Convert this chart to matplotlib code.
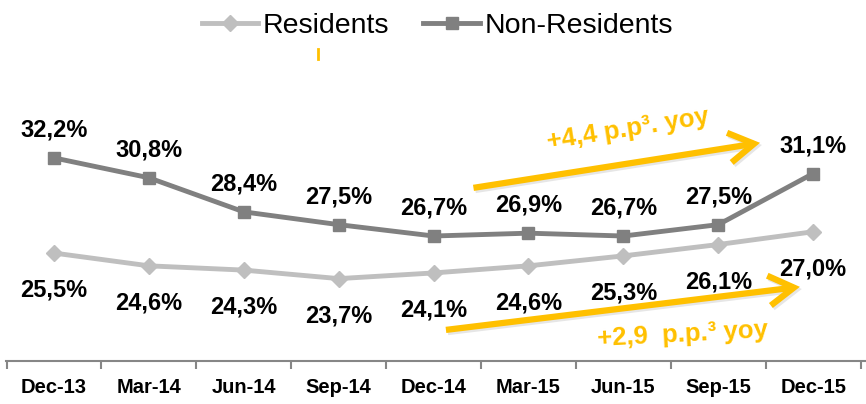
import numpy as np
import matplotlib.pyplot as plt
from matplotlib.lines import Line2D

plt.rcParams["font.family"] = ["Liberation Sans", "DejaVu Sans"]

# ============================
# Data
# ============================
quarters = ["Dec-13", "Mar-14", "Jun-14", "Sep-14", "Dec-14",
            "Mar-15", "Jun-15", "Sep-15", "Dec-15"]
residents = [25.5, 24.6, 24.3, 23.7, 24.1, 24.6, 25.3, 26.1, 27.0]
non_residents = [32.2, 30.8, 28.4, 27.5, 26.7, 26.9, 26.7, 27.5, 31.1]

RES_COLOR = "#BFBFBF"
NONRES_COLOR = "#808080"
ORANGE = "#FFC000"


def fmt(v):
    return f"{v:.1f}%".replace(".", ",")


fig = plt.figure(figsize=(8.66, 4.04), dpi=100)
ax = fig.add_axes([6 / 866, 43 / 404, 859 / 866, 321 / 404])

x = np.arange(len(quarters))
ax.plot(x, residents, color=RES_COLOR, lw=3.5, marker="D", ms=8, zorder=3)
ax.plot(x, non_residents, color=NONRES_COLOR, lw=3.5, marker="s", ms=8, zorder=3)

# data labels
for i, v in enumerate(non_residents):
    ax.annotate(fmt(v), (i, v), xytext=(0, 28), textcoords="offset pixels",
                ha="center", va="center", fontsize=17, fontweight="bold")
for i, v in enumerate(residents):
    ax.annotate(fmt(v), (i, v), xytext=(0, -37), textcoords="offset pixels",
                ha="center", va="center", fontsize=17, fontweight="bold")

# yoy arrows
arrow_kw = dict(arrowstyle="->,head_length=0.75,head_width=0.45", color=ORANGE,
                lw=4.5, shrinkA=0, shrinkB=0, mutation_scale=24,
                capstyle="butt", joinstyle="miter")
for (x0, y0, x1, y1) in [(4.42, 30.09, 7.44, 33.26), (4.13, 20.09, 7.86, 23.12)]:
    ax.annotate("", xy=(x1 + 0.02, y1 - 0.15), xytext=(x0 + 0.02, y0 - 0.15),
                arrowprops=dict(arrow_kw, color="#E6E6E6"), zorder=1)
    ax.annotate("", xy=(x1, y1), xytext=(x0, y0), arrowprops=arrow_kw, zorder=2)

ax.text(6.05, 34.2, "+4,4 p.p³. yoy", color=ORANGE, fontsize=18.5,
        fontweight="bold", ha="center", va="center", rotation=9)
ax.text(6.62, 19.75, "+2,9  p.p.³ yoy", color=ORANGE, fontsize=18.5,
        fontweight="bold", ha="center", va="center", rotation=3)

# axes styling
ax.set_xlim(-0.506, 8.546)
ax.set_ylim(17.9, 40.5)
for s in ["top", "right", "left"]:
    ax.spines[s].set_visible(False)
ax.spines["bottom"].set_color("#868686")
ax.spines["bottom"].set_linewidth(1.5)
ax.set_yticks([])
ax.set_xticks(np.arange(-0.5, len(quarters), 1.0))
ax.set_xticklabels([])
ax.tick_params(axis="x", which="major", length=6, width=1.5, color="#868686")
ax.set_xticks(x, minor=True)
ax.set_xticklabels(quarters, minor=True, fontsize=14.5, fontweight="bold")
ax.tick_params(axis="x", which="minor", length=0, pad=12)

# legend
handles = [
    Line2D([], [], color=RES_COLOR, lw=3.5, marker="D", ms=8),
    Line2D([], [], color=NONRES_COLOR, lw=3.5, marker="s", ms=8),
]
fig.legend(handles, ["Residents", "Non-Residents"], loc="center",
           bbox_to_anchor=(0.505, 0.935), ncol=2, frameon=False, fontsize=20.5,
           handlelength=2.0, handletextpad=0.15, columnspacing=1.2)

# small orange mark under legend
fig.add_artist(Line2D([318 / 866, 318 / 866], [1 - 49 / 404, 1 - 59 / 404],
                      color=ORANGE, lw=2))

fig.savefig("out.png", dpi=100, facecolor="white")
